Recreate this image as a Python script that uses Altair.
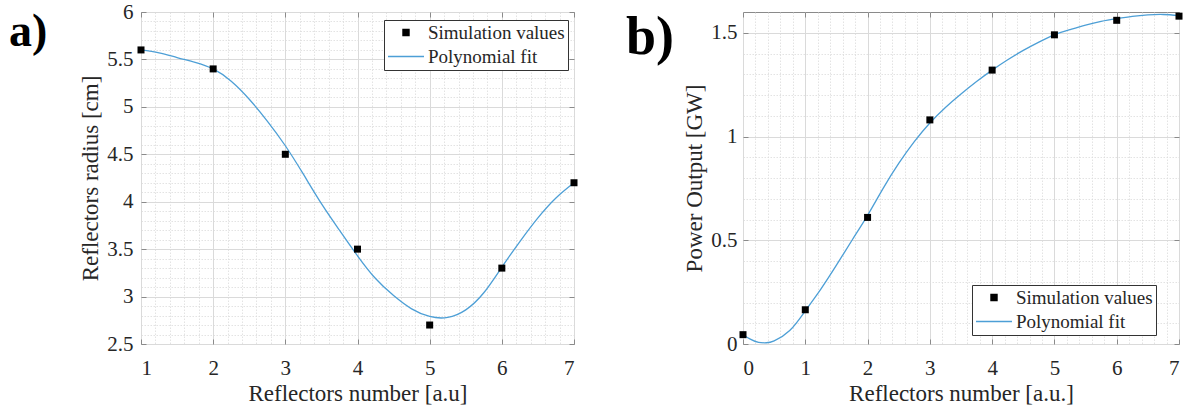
import altair as alt
import pandas as pd

FONT = "Liberation Serif"
TXT = "#262626"
FRAME = "#8a8a8a"
GRID = "#dadada"
MINOR = "#dcdcdc"
BLUE = "#4d9fd6"
SERIES = ["Simulation values", "Polynomial fit"]
# legend glyphs (unit paths scaled by the legend symbol size)
SQ_PATH = "M-0.17,-0.17H0.17V0.17H-0.17Z"
LINE_PATH = "M-1,0H1"

# ---------------- panel a ----------------
a_x = [1, 2, 3, 4, 5, 6, 7]
a_sim = [5.6, 5.4, 4.5, 3.5, 2.7, 3.3, 4.2]
a_fit_x = [1.0, 1.25, 1.5, 1.75, 2.0, 2.25, 2.5, 2.75, 3.0, 3.25, 3.5, 3.75, 4.0,
           4.25, 4.5, 4.75, 5.0, 5.25, 5.5, 5.75, 6.0, 6.25, 6.5, 6.75, 7.0]
a_fit_y = [5.60, 5.57, 5.52, 5.47, 5.40, 5.27, 5.08, 4.85, 4.59, 4.29, 3.98, 3.70, 3.43,
           3.19, 3.01, 2.87, 2.79, 2.78, 2.86, 3.04, 3.31, 3.58, 3.83, 4.04, 4.20]
a_xticks = [1, 2, 3, 4, 5, 6, 7]
a_yticks = [2.5, 3, 3.5, 4, 4.5, 5, 5.5, 6]

# ---------------- panel b ----------------
b_x = [0, 1, 2, 3, 4, 5, 6, 7]
b_sim = [0.045, 0.165, 0.61, 1.08, 1.32, 1.49, 1.56, 1.58]
b_fit_x = [0.0, 0.125, 0.25, 0.375, 0.5, 0.75, 1.0, 1.25, 1.5, 1.75, 2.0, 2.25, 2.5,
           2.75, 3.0, 3.25, 3.5, 3.75, 4.0, 4.25, 4.5, 4.75, 5.0, 5.25, 5.5, 5.75,
           6.0, 6.25, 6.5, 6.75, 7.0]
b_fit_y = [0.045, 0.022, 0.008, 0.006, 0.015, 0.065, 0.16, 0.265, 0.38, 0.50, 0.62,
           0.75, 0.87, 0.975, 1.065, 1.14, 1.205, 1.265, 1.32, 1.37, 1.415, 1.455,
           1.49, 1.515, 1.537, 1.555, 1.568, 1.579, 1.586, 1.588, 1.583]
b_xticks = [0, 1, 2, 3, 4, 5, 6, 7]
b_yticks = [0, 0.5, 1, 1.5]


def minor_values(lo, hi, step, majors):
    """Minor grid positions strictly inside the domain, skipping major ticks."""
    out = []
    n = int(round((hi - lo) / step))
    for i in range(1, n + 1):
        v = round(lo + i * step, 4)
        if v >= hi - 1e-6:
            break
        if all(abs(v - m) > 1e-6 for m in majors):
            out.append(v)
    return out


def panel(sim_x, sim_y, fit_x, fit_y, xdom, ydom, xticks, yticks, xminor, yminor,
          w, h, xtitle, ytitle, label, label_xy, label_size, legend_xy, ylabpad):
    sim = pd.DataFrame({"x": sim_x, "y": sim_y})
    fit = pd.DataFrame({"x": fit_x, "y": fit_y})
    xs = alt.Scale(domain=xdom, nice=False, zero=False)
    ys = alt.Scale(domain=ydom, nice=False, zero=False)

    def blank(values, orient, **kw):
        base = dict(values=values, orient=orient, labels=False, ticks=False,
                    domain=False, grid=False, title=None)
        base.update(kw)
        return alt.Axis(**base)

    # minor grid
    minor = alt.Chart(sim).mark_point(opacity=0).encode(
        x=alt.X("x:Q", scale=xs, axis=blank(xminor, "bottom", grid=True, gridColor=MINOR,
                                             gridDash=[1.5, 1.5], gridWidth=0.8)),
        y=alt.Y("y:Q", scale=ys, axis=blank(yminor, "left", grid=True, gridColor=MINOR,
                                             gridDash=[1.5, 1.5], gridWidth=0.8)),
    )
    # inward ticks bottom / left
    tk1 = alt.Chart(sim).mark_point(opacity=0).encode(
        x=alt.X("x:Q", scale=xs, axis=blank(xticks, "bottom", ticks=True, tickSize=5,
                                             offset=-5, tickColor=FRAME)),
        y=alt.Y("y:Q", scale=ys, axis=blank(yticks, "left", ticks=True, tickSize=5,
                                             offset=-5, tickColor=FRAME)),
    )
    # main axes with labels and major grid + fit line
    line = alt.Chart(fit).mark_line(color=BLUE, strokeWidth=1.3, interpolate="natural").encode(
        x=alt.X("x:Q", scale=xs, axis=alt.Axis(
            values=xticks, orient="bottom", format="~g", grid=True, gridColor=GRID,
            ticks=False, tickSize=0, domain=False, labelPadding=13, labelFont=FONT,
            labelFontSize=21, labelColor=TXT, title=xtitle, titleFont=FONT,
            titleFontSize=23, titleFontWeight="normal", titleColor=TXT, titlePadding=4)),
        y=alt.Y("y:Q", scale=ys, axis=alt.Axis(
            values=yticks, orient="left", format="~g", grid=True, gridColor=GRID,
            ticks=False, tickSize=0, domain=False, labelPadding=ylabpad, labelFont=FONT,
            labelFontSize=21, labelColor=TXT, title=ytitle, titleFont=FONT,
            titleFontSize=23, titleFontWeight="normal", titleColor=TXT, titlePadding=4)),
    )
    # simulation points (+ inward ticks top / right)
    pts = alt.Chart(sim).mark_point(filled=True, shape="square", size=49, opacity=1,
                                    color="#000000").encode(
        x=alt.X("x:Q", scale=xs, axis=blank(xticks, "top", ticks=True, tickSize=5,
                                             offset=-5, tickColor=FRAME)),
        y=alt.Y("y:Q", scale=ys, axis=blank(yticks, "right", ticks=True, tickSize=5,
                                             offset=-5, tickColor=FRAME)),
    )
    # legend (scale domain drives the entries; no marks drawn from this layer)
    leg = alt.Legend(title=None, orient="none", legendX=legend_xy[0], legendY=legend_xy[1],
                     labelFont=FONT, labelFontSize=19, labelColor=TXT, symbolSize=1296,
                     symbolStrokeWidth=1.3, strokeColor="#333333", clipHeight=19,
                     fillColor="white", padding=3, rowPadding=4, labelOffset=3,
                     cornerRadius=0)
    legend_layer = alt.Chart(pd.DataFrame({"series": SERIES})).transform_filter(
        "false").mark_point(filled=True, opacity=1).encode(
        shape=alt.Shape("series:N", scale=alt.Scale(domain=SERIES, range=[SQ_PATH, LINE_PATH]),
                        legend=leg),
        fill=alt.Fill("series:N", scale=alt.Scale(domain=SERIES, range=["#000000", "transparent"]),
                      legend=leg),
        stroke=alt.Stroke("series:N", scale=alt.Scale(domain=SERIES, range=["#000000", BLUE]),
                          legend=leg),
    )
    lab = alt.Chart(pd.DataFrame({"t": [label]})).mark_text(
        font=FONT, fontSize=label_size, fontWeight="bold", align="left",
        baseline="alphabetic", color="black"
    ).encode(text="t:N", x=alt.value(label_xy[0]), y=alt.value(label_xy[1]))

    return alt.layer(minor, tk1, line, pts, legend_layer, lab).resolve_axis(
        x="independent", y="independent").properties(width=w, height=h)


left = panel(a_x, a_sim, a_fit_x, a_fit_y, [1, 7], [2.5, 6], a_xticks, a_yticks,
             minor_values(1, 7, 0.2, a_xticks), minor_values(2.5, 6, 0.1, a_yticks),
             433, 332, "Reflectors number [a.u]", "Reflectors radius [cm]",
             "a)", (-132, 34), 46, (243, 8), 8)
right = panel(b_x, b_sim, b_fit_x, b_fit_y, [0, 7], [0, 1.6], b_xticks, b_yticks,
              minor_values(0, 7, 0.2, b_xticks), minor_values(0, 1.6, 0.1, b_yticks),
              436, 332, "Reflectors number [a.u.]", "Power Output [GW]",
              "b)", (-117, 42), 54, (229, 273), 6)

chart = alt.hconcat(left, right, spacing=169, bounds="flush").resolve_scale(
    shape="independent", fill="independent", stroke="independent"
).resolve_legend(
    shape="independent", fill="independent", stroke="independent"
).properties(
    padding={"left": 8, "top": 0, "right": 0, "bottom": 0}, background="white"
).configure_view(stroke=FRAME, strokeWidth=1)

chart.save("out.html", embed_options={"renderer": "svg", "actions": False})
